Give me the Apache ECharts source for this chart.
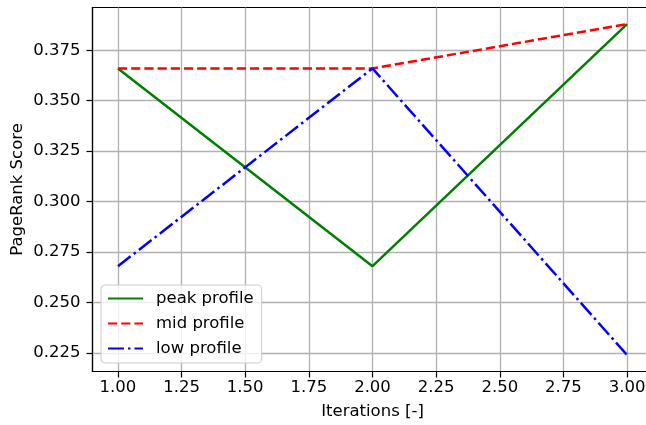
<!DOCTYPE html>
<html>
<head>
<meta charset="utf-8">
<script src="https://cdn.jsdelivr.net/npm/echarts@6/dist/echarts.min.js"></script>
<style>html,body{margin:0;padding:0;background:#fff}#c{width:646px;height:425px}</style>
</head>
<body>
<div id="c"></div>
<script>
const iterations = [1, 2, 3];
const peakProfile = [0.366, 0.268, 0.388];
const midProfile = [0.366, 0.366, 0.388];
const lowProfile = [0.268, 0.366, 0.224];
const xTicks = [1.00, 1.25, 1.50, 1.75, 2.00, 2.25, 2.50, 2.75, 3.00];
const yTicks = [0.225, 0.250, 0.275, 0.300, 0.325, 0.350, 0.375];
const seriesNames = ['peak profile', 'mid profile', 'low profile'];

const font = 'DejaVu Sans';
const fs = 16.5;
const chart = echarts.init(document.getElementById('c'), null, {renderer: 'canvas'});
const pairs = arr => iterations.map((x, i) => [x, arr[i]]);

chart.setOption({
  animation: false,
  backgroundColor: '#fff',
  grid: {left: 92.5, top: 7.5, width: 560, height: 364, outerBoundsMode: 'none', containLabel: false,
    show: true, borderColor: '#000', borderWidth: 1.2, backgroundColor: 'transparent'},
  xAxis: {
    type: 'value', min: 0.9, max: 3.1,
    name: 'Iterations [-]', nameLocation: 'middle', nameGap: 32,
    nameTextStyle: {fontFamily: font, fontSize: fs, color: '#000'},
    axisLine: {show: true, onZero: false, lineStyle: {color: '#000', width: 1.2}},
    axisTick: {show: true, length: 6, lineStyle: {color: '#000', width: 1.2}, customValues: xTicks},
    axisLabel: {fontFamily: font, fontSize: fs, color: '#000', margin: 8, customValues: xTicks,
      formatter: v => v.toFixed(2)},
    splitLine: {show: true, lineStyle: {color: '#b0b0b0', width: 1.3}}
  },
  yAxis: {
    type: 'value', min: 0.2158, max: 0.3962,
    name: 'PageRank Score', nameLocation: 'middle', nameGap: 66, nameMoveOverlap: false,
    nameTextStyle: {fontFamily: font, fontSize: fs, color: '#000'},
    axisLine: {show: true, onZero: false, lineStyle: {color: '#000', width: 1.2}},
    axisTick: {show: true, length: 6, lineStyle: {color: '#000', width: 1.2}, customValues: yTicks},
    axisLabel: {fontFamily: font, fontSize: fs, color: '#000', margin: 12, customValues: yTicks,
      formatter: v => v.toFixed(3)},
    splitLine: {show: true, lineStyle: {color: '#b0b0b0', width: 1.3}}
  },
  legend: {
    left: 101, top: 285, orient: 'vertical',
    itemWidth: 35, itemHeight: 16, itemGap: 8,
    padding: [5, 8, 6, 6],
    backgroundColor: 'rgba(255,255,255,0.8)', borderColor: '#cccccc', borderWidth: 1, borderRadius: 4,
    itemStyle: {opacity: 0},
    textStyle: {fontFamily: font, fontSize: fs, color: '#000', padding: [0, 0, 0, 8]},
    data: seriesNames
  },
  series: [
    {name: seriesNames[0], type: 'line', data: pairs(peakProfile), symbol: 'none', color: '#008000',
      lineStyle: {color: '#008000', width: 2.5, type: 'solid'}},
    {name: seriesNames[1], type: 'line', data: pairs(midProfile), symbol: 'none', color: '#ff0000',
      lineStyle: {color: '#ff0000', width: 2.5, type: [9.2, 4]}},
    {name: seriesNames[2], type: 'line', data: pairs(lowProfile), symbol: 'none', color: '#0000ff',
      lineStyle: {color: '#0000ff', width: 2.5, type: [16, 4, 2.5, 4]}}
  ]
});
</script>
</body>
</html>
